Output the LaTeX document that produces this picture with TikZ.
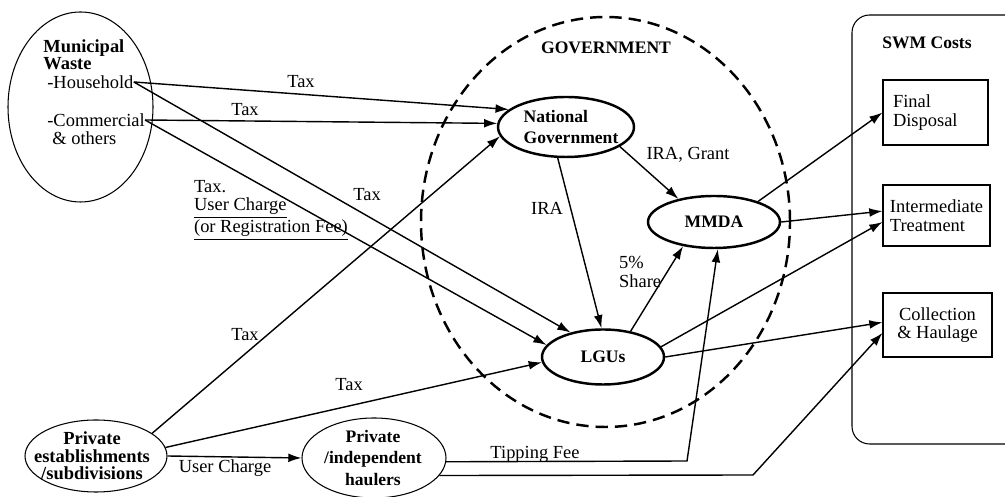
\documentclass[tikz,border=0pt]{standalone}
\usepackage{fontspec}
\setmainfont{Liberation Serif}
\usetikzlibrary{shapes.geometric,arrows.meta}

\begin{document}
\begin{tikzpicture}[font=\fontsize{10.5}{10.5}\selectfont]
    \tikzstyle{agency}=[ellipse, draw, line width=1.4pt, inner sep=0pt, font=\bfseries];
    \tikzstyle{payer}=[ellipse, draw, line width=0.6pt, inner sep=0pt];
    \tikzstyle{cost item}=[rectangle, draw, line width=0.6pt, align=left, inner sep=0pt];
    \tikzstyle{money}=[-{Latex[length=7.5pt,width=5pt]}, line width=0.8pt];
    \tikzstyle{fee}=[inner sep=1pt];

    \useasboundingbox (0,0) rectangle (20.1,9.94);

    % payers
    \node[payer, minimum width=2.9cm, minimum height=3.8cm] (mw) at (1.61,7.80) {};
    \node[anchor=west, align=left, inner sep=0pt, font=\bfseries\fontsize{10.5}{9.6}\selectfont] (mwt) at (0.86,8.84) {Municipal\\Waste};
    \node[anchor=west, inner sep=0pt] (hh) at (0.94,8.30) {-Household};
    \node[anchor=west, inner sep=0pt] (cm) at (0.94,7.54) {-Commercial};
    \node[anchor=west, inner sep=0pt] (ot) at (1.04,7.18) {\& others};

    \node[payer, minimum width=2.84cm, minimum height=1.44cm] (pe) at (1.92,0.82) {};
    \node[align=center, inner sep=0pt, font=\bfseries\fontsize{10.5}{9.9}\selectfont] (pet) at (1.84,0.82) {Private\\establishments\\/subdivisions};
    \node[payer, minimum width=2.88cm, minimum height=1.6cm] (ph) at (7.48,0.78) {};
    \node[align=center, inner sep=0pt, font=\bfseries] (pht) at (7.46,0.78) {Private\\/independent\\haulers};

    % government
    \node[ellipse, draw, line width=1.4pt, dash pattern=on 7pt off 4pt, minimum width=7.38cm, minimum height=8.2cm] (gov) at (12.11,5.50) {};
    \node[font=\bfseries] (govt) at (12.12,8.98) {GOVERNMENT};
    \node[agency, minimum width=2.72cm, minimum height=1.2cm] (ng) at (11.32,7.40) {};
    \node[align=left, inner sep=0pt, font=\bfseries] (ngt) at (11.42,7.40) {National\\Government};
    \node[agency, minimum width=2.64cm, minimum height=1.04cm] (mmda) at (14.28,5.50) {MMDA};
    \node[agency, minimum width=2.44cm, minimum height=1.1cm] (lgu) at (12.06,2.80) {LGUs};

    % costs
    \node[draw, line width=0.6pt, rounded corners=10pt, minimum width=3.5cm, minimum height=8.58cm] (swm) at (18.79,5.35) {};
    \node[font=\bfseries] (swmt) at (18.54,9.08) {SWM Costs};
    \node[cost item, text width=1.7cm, minimum width=2.1cm, minimum height=1.3cm] (fd) at (18.71,7.69) {Final\\Disposal};
    \node[cost item, minimum width=2.14cm, minimum height=1.22cm] (it) at (18.73,5.63) {Intermediate\\Treatment};
    \node[cost item, align=center, minimum width=2.18cm, minimum height=1.28cm] (ch) at (18.75,3.44) {Collection\\\& Haulage};

    \coordinate (tip1) at (13.74,0.72);
    \coordinate (tip2) at (15.06,0.44);

    \draw[money] (hh.east) -- (ng.163);
    \draw[money] (cm.east) -- (ng.177);
    \draw[money] (hh.east) -- (lgu.143);
    \draw[money] (cm.east) -- (lgu.168);
    \draw[money] (pe.22) -- (ng.188);
    \draw[money] (pe.7) -- (lgu.185);
    \draw[money] (pe.east) -- (ph.west);

    \draw[money] (ng.-20) -- (mmda.147);
    \draw[money] (ng.-105) -- (lgu.93);
    \draw[money] (lgu.43) -- (mmda.218);

    \draw[money] (mmda.25) -- (fd.west);
    \draw[money] (mmda.east) -- ([yshift=2.5pt]it.west);
    \draw[money] (lgu.10) -- ([yshift=-3.7pt]it.west);
    \draw[money] (lgu.east) -- ([yshift=1.5pt]ch.west);

    \draw[money] (ph.-3) -- (tip1) -- (mmda.-82);
    \draw[money] (ph.-15) -- (tip2) -- ([yshift=-4.5pt]ch.west);

    % labels
    \node[fee] (t1) at (6.02,8.30) {Tax};
    \node[fee] (t2) at (4.90,7.74) {Tax};
    \node[fee] (t3) at (7.34,6.04) {Tax};
    \node[fee, anchor=west, align=left] (t4) at (3.84,5.74) {Tax.\\\underline{User Charge}\\\underline{(or Registration Fee)}};
    \node[fee] (t5) at (4.90,3.24) {Tax};
    \node[fee] (t6) at (6.98,2.24) {Tax};
    \node[fee] (uc) at (4.50,0.58) {User Charge};
    \node[fee] (tfee) at (10.70,0.86) {Tipping Fee};
    \node[fee] (ira1) at (13.76,6.84) {IRA, Grant};
    \node[fee] (ira2) at (10.94,5.78) {IRA};
    \node[fee, anchor=west, align=left] (share) at (12.34,4.50) {5\%\\Share};
\end{tikzpicture}
\end{document}
